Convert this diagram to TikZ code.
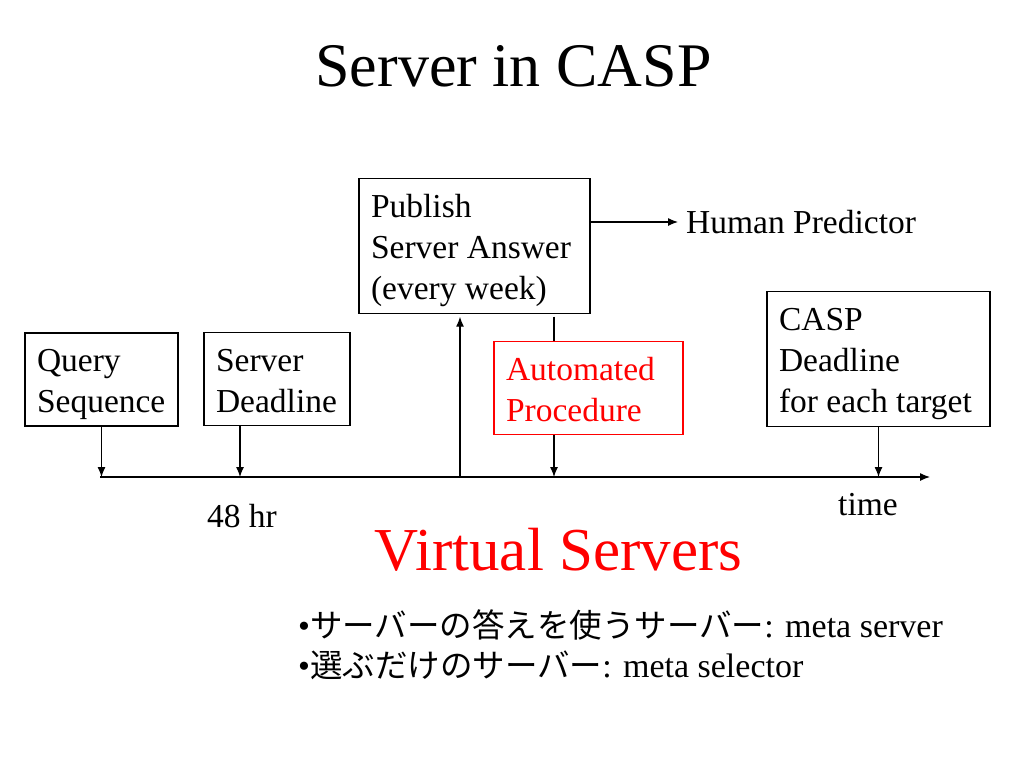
\documentclass[tikz,border=0pt]{standalone}
\usepackage{fontspec}
\setmainfont{Liberation Serif}
\newfontfamily\jpfont{Noto Sans CJK JP}
\usetikzlibrary{arrows.meta}

\newcommand\etai{\rule[-7pt]{0pt}{40pt}}
\tikzset{boite/.style = {draw, rectangle, align=flush left, inner xsep=12pt, inner ysep=6pt,
                         line width=1.2pt, font=\fontsize{33.5}{41}\selectfont,
                         execute at begin node=\etai, execute at end node=\etai},
         texte/.style = {inner sep=0pt, font=\fontsize{33.5}{41}\selectfont},
         puce/.style = {inner sep=0pt, anchor=base west, font=\fontsize{34}{40}\selectfont},
         fleche/.style = {-{Latex[length=10pt,width=8pt]}, line width=1.2pt}
        }

\begin{document}
\begin{tikzpicture}[x=1pt,y=-1pt]
\useasboundingbox (0,0) rectangle (1024,768);
\node[font=\fontsize{62}{70}\selectfont, anchor=base] (titre) at (513.5,86) {Server in CASP};
% boxes
\node[boite, text width=129pt] at (101.5,379.5) (qs) {Query\\Sequence};
\node[boite, text width=122pt] at (277,379) (sd) {Server\\Deadline};
\node[boite, text width=207pt] at (474.5,246) (pub) {Publish\\Server Answer\\(every week)};
\node[boite, text width=165pt, draw=red, text=red] at (588.5,388) (proc) {Automated\\Procedure};
\node[boite, text width=199pt] at (878.5,359) (casp) {CASP\\Deadline\\for each target};
\node[texte, anchor=west] at (686,222) (hp) {Human Predictor};
% time axis
\coordinate (t0) at (100,477);
\coordinate (t1) at (930,477);
\draw[fleche] (t0) -- (t1);
\coordinate (sdpied) at ([xshift=-37pt]sd.south);
\coordinate (pubpied) at ([xshift=-14.5pt]pub.south);
\coordinate (procx) at ([xshift=-34.5pt]proc.north);
\draw[fleche] (qs.south) -- (qs.south |- t0);
\draw[fleche] (sdpied) -- (sdpied |- t0);
\draw[fleche, shorten >=3pt] (pubpied |- t0) -- (pubpied);
\draw[line width=1.2pt, shorten <=3pt] (procx |- pub.south) -- (procx);
\draw[fleche] (procx |- proc.south) -- (procx |- t0);
\draw[fleche] (casp.south) -- (casp.south |- t0);
\draw[fleche, shorten >=8pt] ([yshift=24pt]pub.east) -- ([yshift=24pt]pub.east -| hp.west);
\node[texte, anchor=base] at (242,527) (h48) {48 hr};
\node[texte, anchor=base] at (868,515) (temps) {time};
\node[font=\fontsize{61}{70}\selectfont, text=red, anchor=base] at (558.5,570) (virt) {Virtual Servers};
\node[puce] at (298,637) (b1) {•{\jpfont\fontsize{32.5}{40}\selectfont サーバーの答えを使うサーバー}: meta server};
\node[puce] at (298,677) (b2) {•{\jpfont\fontsize{32.5}{40}\selectfont 選ぶだけのサーバー}: meta selector};
\end{tikzpicture}
\end{document}
